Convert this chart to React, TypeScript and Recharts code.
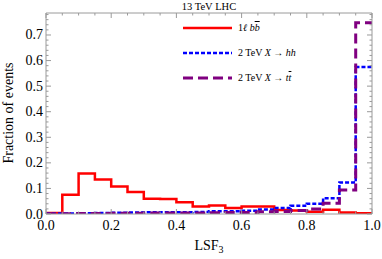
import React from 'react';
import { ComposedChart, Line, XAxis, YAxis, Legend } from 'recharts';

// bin edges (LSF3), last edge repeats the final bin for the step line
const EDGES = [0, 0.05, 0.1, 0.15, 0.2, 0.25, 0.3, 0.35, 0.4, 0.45, 0.5, 0.55, 0.6, 0.65, 0.7, 0.75, 0.8, 0.85, 0.9, 0.95, 1.0];
const BKG_1L_BB = [0.004, 0.075, 0.158, 0.135, 0.108, 0.086, 0.06, 0.059, 0.046, 0.029, 0.033, 0.023, 0.029, 0.029, 0.016, 0.014, 0.009, 0.017, 0.006, 0.003, 0.003];
const X_HH = [0.002, 0.002, 0.003, 0.004, 0.005, 0.006, 0.007, 0.007, 0.007, 0.008, 0.011, 0.011, 0.013, 0.018, 0.023, 0.032, 0.04, 0.062, 0.123, 0.575, 0.575];
const X_TT = [0.001, 0.001, 0.002, 0.002, 0.003, 0.003, 0.004, 0.004, 0.004, 0.004, 0.005, 0.006, 0.006, 0.009, 0.01, 0.014, 0.02, 0.042, 0.094, 0.748, 0.748];

const X_MAJOR = [0, 0.2, 0.4, 0.6, 0.8, 1.0];
const X_TICKS = [0, 0.05, 0.1, 0.15, 0.2, 0.25, 0.3, 0.35, 0.4, 0.45, 0.5, 0.55, 0.6, 0.65, 0.7, 0.75, 0.8, 0.85, 0.9, 0.95, 1.0];
const Y_MAJOR = [0, 0.1, 0.2, 0.3, 0.4, 0.5, 0.6, 0.7];
const Y_TICKS = [0, 0.02, 0.04, 0.06, 0.08, 0.1, 0.12, 0.14, 0.16, 0.18, 0.2, 0.22, 0.24, 0.26, 0.28, 0.3, 0.32, 0.34, 0.36, 0.38,
  0.4, 0.42, 0.44, 0.46, 0.48, 0.5, 0.52, 0.54, 0.56, 0.58, 0.6, 0.62, 0.64, 0.66, 0.68, 0.7, 0.72, 0.74, 0.76, 0.78];

const data = EDGES.map((x, i) => ({ x, bb: BKG_1L_BB[i], hh: X_HH[i], tt: X_TT[i] }));

const FRAME = '#9a9a9a';
const SERIF = '"Liberation Serif", "DejaVu Serif", serif';

const isIn = (v: number, arr: number[]) => arr.some(a => Math.abs(a - v) < 1e-6);

const makeTick = (side: 'bottom' | 'top' | 'left' | 'right') => (props: any) => {
  const { x, y, payload } = props;
  const v = payload.value as number;
  const major = side === 'bottom' || side === 'top' ? isIn(v, X_MAJOR) : isIn(v, Y_MAJOR);
  const len = major ? 5 : 2.5;
  let line;
  if (side === 'bottom') line = <line x1={x} x2={x} y1={y} y2={y - len} stroke={FRAME} />;
  else if (side === 'top') line = <line x1={x} x2={x} y1={y} y2={y + len} stroke={FRAME} />;
  else if (side === 'left') line = <line x1={x} x2={x + len} y1={y} y2={y} stroke={FRAME} />;
  else line = <line x1={x} x2={x - len} y1={y} y2={y} stroke={FRAME} />;
  return (
    <g>
      {line}
      {side === 'bottom' && major && (
        <text x={x} y={y + 16} textAnchor="middle" fontSize={14} fontFamily={SERIF} fill="#000">{v.toFixed(1)}</text>
      )}
      {side === 'left' && major && (
        <text x={x - 3} y={y + 4.5} textAnchor="end" fontSize={14} fontFamily={SERIF} fill="#000">{v.toFixed(1)}</text>
      )}
    </g>
  );
};

const LEGEND = [
  { key: 'bb', color: '#ff0000', dash: undefined, width: 2.5 },
  { key: 'hh', color: '#0000ff', dash: '4 2', width: 2.5 },
  { key: 'tt', color: '#800080', dash: '10 5', width: 3 },
];

const legendLabel = (key: string) => {
  if (key === 'bb') return <span>1<i>ℓ</i> <i>b<span style={{ textDecoration: 'overline' }}>b</span></i></span>;
  if (key === 'hh') return <span>2 TeV <i>X</i> → <i>hh</i></span>;
  return <span>2 TeV <i>X</i> → <i>t<span style={{ textDecoration: 'overline' }}>t</span></i></span>;
};

const LegendBox = () => (
  <div style={{ fontFamily: SERIF, fontSize: 10, color: '#000' }}>
    {LEGEND.map(l => (
      <div key={l.key} style={{ display: 'flex', alignItems: 'center', height: 25 }}>
        <svg width={49} height={6} style={{ marginRight: 6 }}>
          <line x1={0} x2={49} y1={3} y2={3} stroke={l.color} strokeWidth={l.width} strokeDasharray={l.dash} />
        </svg>
        {legendLabel(l.key)}
      </div>
    ))}
  </div>
);

export default function App() {
  return (
    <div style={{ position: 'absolute', left: 0, top: 0, width: 382, height: 259 }}>
      <ComposedChart width={382} height={259} data={data} margin={{ top: 12, right: 9, bottom: 44, left: 45 }}>
        <XAxis dataKey="x" type="number" domain={[0, 1]} ticks={X_TICKS} interval={0} height={1} allowDataOverflow
          axisLine={{ stroke: FRAME }} tickLine={false} tickSize={0} tickMargin={0} tick={makeTick('bottom')} />
        <XAxis xAxisId="top" dataKey="x" orientation="top" type="number" domain={[0, 1]} ticks={X_TICKS} interval={0} height={1} allowDataOverflow
          axisLine={{ stroke: FRAME }} tickLine={false} tickSize={0} tickMargin={0} tick={makeTick('top')} />
        <YAxis type="number" domain={[0, 0.786]} ticks={Y_TICKS} interval={0} width={1} allowDataOverflow
          axisLine={{ stroke: FRAME }} tickLine={false} tickSize={0} tickMargin={0} tick={makeTick('left')} />
        <YAxis yAxisId="right" orientation="right" type="number" domain={[0, 0.786]} ticks={Y_TICKS} interval={0} width={1} allowDataOverflow
          axisLine={{ stroke: FRAME }} tickLine={false} tickSize={0} tickMargin={0} tick={makeTick('right')} />
        <Legend content={<LegendBox />} layout="vertical" align="center" verticalAlign="middle"
          wrapperStyle={{ position: 'absolute', left: 183, top: 15, width: 'auto' }} />
        <Line type="stepAfter" dataKey="bb" stroke="#ff0000" strokeWidth={2.5} dot={false} isAnimationActive={false} />
        <Line type="stepAfter" dataKey="hh" stroke="#0000ff" strokeWidth={2.5} strokeDasharray="4 2" dot={false} isAnimationActive={false} />
        <Line type="stepAfter" dataKey="tt" stroke="#800080" strokeWidth={3} strokeDasharray="10 5" dot={false} isAnimationActive={false} />
        <text x={209} y={10} textAnchor="middle" fontSize={10.5} fontFamily={SERIF}>13 TeV LHC</text>
        <text x={209} y={250} textAnchor="middle" fontSize={14} fontFamily={SERIF}>
          LSF<tspan fontSize={10} dy={3}>3</tspan>
        </text>
        <text x={13} y={113} textAnchor="middle" fontSize={14} fontFamily={SERIF} transform="rotate(-90 13 113)">Fraction of events</text>
      </ComposedChart>
    </div>
  );
}
